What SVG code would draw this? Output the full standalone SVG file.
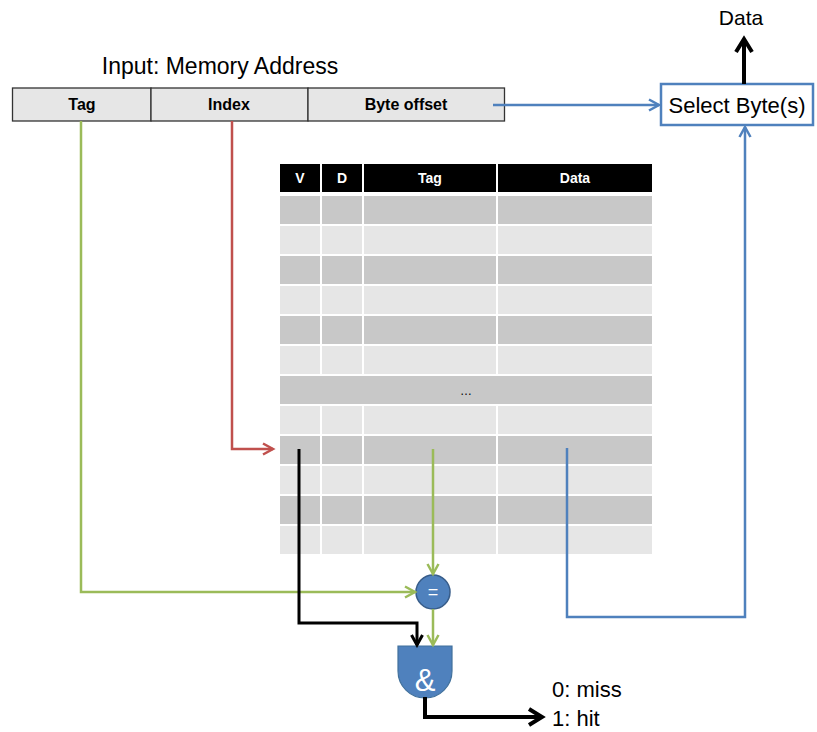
<svg xmlns="http://www.w3.org/2000/svg" width="817" height="732" viewBox="0 0 817 732">
<style>
  text { font-family: "Liberation Sans", Arial, sans-serif; }
  .lbl { font-size: 22px; fill: #000; }
  .field { fill: #e6e6e6; stroke: #333; stroke-width: 1.3; }
  .ftxt { font-size: 16px; font-weight: bold; text-anchor: middle; fill: #000; }
  .hdr { fill: #000; }
  .htxt { font-size: 14px; font-weight: bold; text-anchor: middle; fill: #fff; }
  .dk { fill: #c8c8c8; }
  .lt { fill: #e6e6e6; }
  .c { fill: none; stroke-linejoin: miter; }
  .blue { stroke: #4f81bd; stroke-width: 2.5; }
  .green { stroke: #9bbb59; stroke-width: 2.5; }
  .red { stroke: #c0504d; stroke-width: 2.5; }
  .blk { stroke: #000; stroke-width: 3; }
  .blkw { stroke: #000; stroke-width: 4; }
  .gate { fill: #4f81bd; stroke: #41719c; stroke-width: 1.2; }
</style>
<defs>
  <marker id="aBlue" markerUnits="userSpaceOnUse" markerWidth="16" markerHeight="16" refX="13" refY="8" orient="auto">
    <path d="M3,2.5 L13,8 L3,13.5" fill="none" stroke="#4f81bd" stroke-width="2.5"/>
  </marker>
  <marker id="aGreen" markerUnits="userSpaceOnUse" markerWidth="16" markerHeight="16" refX="13" refY="8" orient="auto">
    <path d="M3,2.5 L13,8 L3,13.5" fill="none" stroke="#9bbb59" stroke-width="2.5"/>
  </marker>
  <marker id="aRed" markerUnits="userSpaceOnUse" markerWidth="16" markerHeight="16" refX="13" refY="8" orient="auto">
    <path d="M3,2.5 L13,8 L3,13.5" fill="none" stroke="#c0504d" stroke-width="2.5"/>
  </marker>
  <marker id="aBlk" markerUnits="userSpaceOnUse" markerWidth="16" markerHeight="16" refX="13" refY="8" orient="auto">
    <path d="M3,2.5 L13,8 L3,13.5" fill="none" stroke="#000" stroke-width="3"/>
  </marker>
  <marker id="aBlkW" markerUnits="userSpaceOnUse" markerWidth="22" markerHeight="22" refX="17" refY="11" orient="auto">
    <path d="M4,3 L17,11 L4,19" fill="none" stroke="#000" stroke-width="4"/>
  </marker>
</defs>

<g id="address">
  <text class="lbl" x="220" y="74" text-anchor="middle" style="font-size:23px">Input: Memory Address</text>
  <rect class="field" x="12.5" y="88" width="138.5" height="33"/>
  <rect class="field" x="151" y="88" width="157" height="33"/>
  <rect class="field" x="308" y="88" width="196.5" height="33"/>
  <text class="ftxt" x="82" y="110">Tag</text>
  <text class="ftxt" x="229" y="110">Index</text>
  <text class="ftxt" x="406" y="110">Byte offset</text>
</g>

<g id="cache">
  <rect class="hdr" x="280" y="164" width="40" height="28"/>
  <rect class="hdr" x="322" y="164" width="40" height="28"/>
  <rect class="hdr" x="364" y="164" width="132" height="28"/>
  <rect class="hdr" x="498" y="164" width="154" height="28"/>
  <text class="htxt" x="300" y="183">V</text>
  <text class="htxt" x="342" y="183">D</text>
  <text class="htxt" x="430" y="183">Tag</text>
  <text class="htxt" x="575" y="183">Data</text>

  <g class="dk">
    <rect x="280" y="196" width="40" height="28"/><rect x="322" y="196" width="40" height="28"/><rect x="364" y="196" width="132" height="28"/><rect x="498" y="196" width="154" height="28"/>
    <rect x="280" y="256" width="40" height="28"/><rect x="322" y="256" width="40" height="28"/><rect x="364" y="256" width="132" height="28"/><rect x="498" y="256" width="154" height="28"/>
    <rect x="280" y="316" width="40" height="28"/><rect x="322" y="316" width="40" height="28"/><rect x="364" y="316" width="132" height="28"/><rect x="498" y="316" width="154" height="28"/>
    <rect x="280" y="376" width="372" height="28"/>
    <rect x="280" y="436" width="40" height="28"/><rect x="322" y="436" width="40" height="28"/><rect x="364" y="436" width="132" height="28"/><rect x="498" y="436" width="154" height="28"/>
    <rect x="280" y="496" width="40" height="28"/><rect x="322" y="496" width="40" height="28"/><rect x="364" y="496" width="132" height="28"/><rect x="498" y="496" width="154" height="28"/>
  </g>
  <g class="lt">
    <rect x="280" y="226" width="40" height="28"/><rect x="322" y="226" width="40" height="28"/><rect x="364" y="226" width="132" height="28"/><rect x="498" y="226" width="154" height="28"/>
    <rect x="280" y="286" width="40" height="28"/><rect x="322" y="286" width="40" height="28"/><rect x="364" y="286" width="132" height="28"/><rect x="498" y="286" width="154" height="28"/>
    <rect x="280" y="346" width="40" height="28"/><rect x="322" y="346" width="40" height="28"/><rect x="364" y="346" width="132" height="28"/><rect x="498" y="346" width="154" height="28"/>
    <rect x="280" y="406" width="40" height="28"/><rect x="322" y="406" width="40" height="28"/><rect x="364" y="406" width="132" height="28"/><rect x="498" y="406" width="154" height="28"/>
    <rect x="280" y="466" width="40" height="28"/><rect x="322" y="466" width="40" height="28"/><rect x="364" y="466" width="132" height="28"/><rect x="498" y="466" width="154" height="28"/>
    <rect x="280" y="526" width="40" height="28"/><rect x="322" y="526" width="40" height="28"/><rect x="364" y="526" width="132" height="28"/><rect x="498" y="526" width="154" height="28"/>
  </g>
  <text x="466" y="395" text-anchor="middle" style="font-size:12px" fill="#000">…</text>
</g>

<g id="select">
  <rect x="661" y="84" width="152" height="41" fill="#fff" stroke="#4f81bd" stroke-width="2.5"/>
  <text class="lbl" x="737" y="113" text-anchor="middle">Select Byte(s)</text>
</g>

<g id="data-out">
  <text class="lbl" x="741" y="25" text-anchor="middle" style="font-size:21px">Data</text>
</g>

<g id="compare">
  <circle cx="433" cy="592" r="17" fill="#4f81bd" stroke="#385d8a" stroke-width="1.5"/>
  <text x="433" y="598" text-anchor="middle" style="font-size:18px" fill="#fff">=</text>
</g>

<g id="and-gate">
  <path class="gate" d="M398,646 H452 V671 A27,27 0 0 1 398,671 Z"/>
  <text x="425" y="691" text-anchor="middle" style="font-size:31px" fill="#fff">&amp;</text>
</g>

<g id="result">
  <text class="lbl" x="552" y="697">0: miss</text>
  <text class="lbl" x="552" y="726">1: hit</text>
</g>

<g id="connectors">
  <path class="c blue" d="M493,105 H659" marker-end="url(#aBlue)"/>
  <path class="c blue" d="M567,448 V617 H745 V127" marker-end="url(#aBlue)"/>
  <path class="c red" d="M232,121 V449 H273" marker-end="url(#aRed)"/>
  <path class="c green" d="M81,121 V592 H415" marker-end="url(#aGreen)"/>
  <path class="c green" d="M433,449 V574" marker-end="url(#aGreen)"/>
  <path class="c green" d="M433,609 V645" marker-end="url(#aGreen)"/>
  <path class="c blk" d="M299,449 V623 H417 V645" marker-end="url(#aBlk)"/>
  <path class="c blkw" d="M744,84 V39" marker-end="url(#aBlkW)"/>
  <path class="c blkw" d="M425,697 V717 H542" marker-end="url(#aBlkW)"/>
</g>
</svg>
